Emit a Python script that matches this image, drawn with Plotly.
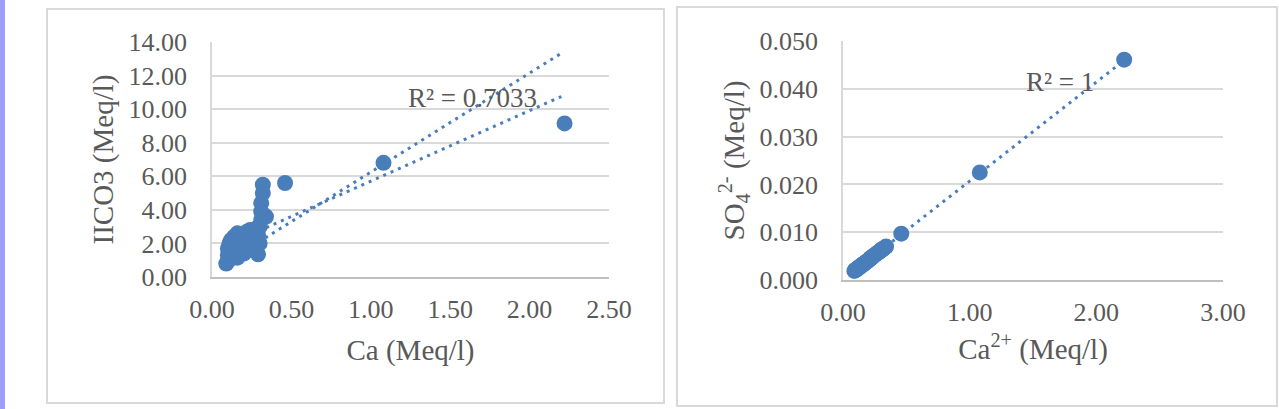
import plotly.graph_objects as go

# ---- data ----
ca = [0.09, 0.10, 0.10, 0.11, 0.12, 0.12, 0.13, 0.13, 0.14, 0.15, 0.15, 0.16, 0.17, 0.17,
      0.18, 0.19, 0.19, 0.20, 0.21, 0.22, 0.22, 0.23, 0.24, 0.25, 0.26, 0.27, 0.28, 0.29,
      0.29, 0.30, 0.30, 0.31, 0.31, 0.31, 0.32, 0.32, 0.34, 0.10, 0.11, 0.12, 0.14, 0.16,
      0.16, 0.20, 0.23, 0.46, 1.08, 2.22]
hco3 = [0.80, 1.00, 1.30, 1.60, 1.10, 1.90, 1.40, 2.10, 1.70, 1.30, 2.30, 1.90, 1.60, 2.45,
        2.10, 1.80, 2.55, 2.30, 2.00, 2.70, 2.40, 2.10, 2.80, 2.50, 2.20, 1.60, 2.90, 1.35,
        2.50, 3.00, 2.00, 3.40, 3.90, 4.40, 5.00, 5.50, 3.60, 1.70, 2.00, 2.20, 2.40, 2.60,
        1.15, 1.40, 1.60, 5.60, 6.80, 9.15]
so4 = [0.0019, 0.0021, 0.0021, 0.0023, 0.0025, 0.0025, 0.0027, 0.0027, 0.0029, 0.0031,
       0.0031, 0.0033, 0.0035, 0.0035, 0.0037, 0.0039, 0.0039, 0.0041, 0.0043, 0.0046,
       0.0046, 0.0048, 0.0050, 0.0052, 0.0054, 0.0056, 0.0058, 0.0060, 0.0060, 0.0062,
       0.0062, 0.0064, 0.0064, 0.0064, 0.0066, 0.0066, 0.0070, 0.0021, 0.0023, 0.0025,
       0.0029, 0.0033, 0.0033, 0.0041, 0.0048, 0.0097, 0.0225, 0.0461]

# trend lines (slope, intercept, x-start, x-end)
trend_left_a = (5.9, 0.35, 0.25, 2.20)
trend_left_b = (4.2, 1.51, 0.25, 2.20)
trend_right = (0.0207, 0.0, 0.09, 2.22)

r2_left = "R² = 0.7033"
r2_right = "R² = 1"

BLUE = "#4a7ebb"
GREY = "#595959"
FONT = "Liberation Serif"
W, H = 1279, 409


def px(x):
    return x / W


def py(y):
    return 1 - y / H


def trend(t):
    s, b, x0, x1 = t
    return [x0, x1], [s * x0 + b, s * x1 + b]


DOT = dict(color=BLUE, width=3, dash="3px,5px")

fig = go.Figure()

for t in (trend_left_a, trend_left_b):
    xs, ys = trend(t)
    fig.add_trace(go.Scatter(x=xs, y=ys, mode="lines", xaxis="x", yaxis="y",
                             line=DOT, showlegend=False))
fig.add_trace(go.Scatter(x=ca, y=hco3, mode="markers", xaxis="x", yaxis="y",
                         marker=dict(color=BLUE, size=16), showlegend=False))

xs, ys = trend(trend_right)
fig.add_trace(go.Scatter(x=xs, y=ys, mode="lines", xaxis="x2", yaxis="y2",
                         line=DOT, showlegend=False))
fig.add_trace(go.Scatter(x=ca, y=so4, mode="markers", xaxis="x2", yaxis="y2",
                         marker=dict(color=BLUE, size=16), showlegend=False))

tickfont = dict(family=FONT, size=26, color=GREY)
titlefont = dict(family=FONT, size=29, color=GREY)

common_x = dict(showgrid=False, zeroline=False, showline=True, linecolor="#bfbfbf",
                linewidth=1.5, ticks="", tickfont=tickfont, automargin=False,
                ticklabelstandoff=8, fixedrange=True)
common_y = dict(showgrid=True, gridcolor="#d9d9d9", gridwidth=1.5, zeroline=False,
                showline=True, linecolor="#d9d9d9", linewidth=1.5, ticks="",
                tickfont=tickfont, automargin=False, ticklabelstandoff=18, fixedrange=True)

fig.update_layout(
    width=W, height=H, autosize=False,
    margin=dict(l=0, r=0, t=0, b=0),
    paper_bgcolor="white", plot_bgcolor="white",
    xaxis=dict(domain=[px(212), px(609)], range=[0, 2.5], dtick=0.5, tickformat=".2f",
               title=dict(text="Ca (Meq/l)", font=titlefont, standoff=17), anchor="y",
               **common_x),
    yaxis=dict(domain=[py(277), py(42)], range=[0, 14], dtick=2, tickformat=".2f",
               title=dict(text="IICO3 (Meq/l)", font=titlefont, standoff=6), anchor="x",
               **common_y),
    xaxis2=dict(domain=[px(843), px(1223)], range=[0, 3], dtick=1, tickformat=".2f",
                title=dict(text="Ca<sup>2+</sup> (Meq/l)", font=titlefont, standoff=13),
                anchor="y2", **common_x),
    yaxis2=dict(domain=[py(280), py(41)], range=[0, 0.05], dtick=0.01, tickformat=".3f",
                title=dict(text="SO<sub>4</sub><sup>2-</sup> (Meq/l)", font=titlefont,
                           standoff=6), anchor="x2", **common_y),
    shapes=[
        dict(type="rect", xref="paper", yref="paper", x0=0, x1=px(5), y0=0, y1=1,
             fillcolor="#9d9dfb", line=dict(width=0), layer="below"),
        dict(type="rect", xref="paper", yref="paper", x0=px(47), x1=px(664),
             y0=py(403), y1=py(9), line=dict(color="#d9d9d9", width=2),
             fillcolor="rgba(0,0,0,0)", layer="below"),
        dict(type="rect", xref="paper", yref="paper", x0=px(677), x1=px(1277),
             y0=py(406), y1=py(7), line=dict(color="#d9d9d9", width=2),
             fillcolor="rgba(0,0,0,0)", layer="below"),
    ],
    annotations=[
        dict(text=r2_left, x=1.64, y=10.66, xref="x", yref="y", showarrow=False,
             font=dict(family=FONT, size=27, color=GREY)),
        dict(text=r2_right, x=1.71, y=0.0414, xref="x2", yref="y2", showarrow=False,
             font=dict(family=FONT, size=27, color=GREY)),
    ],
)

fig.write_html("out.html")
